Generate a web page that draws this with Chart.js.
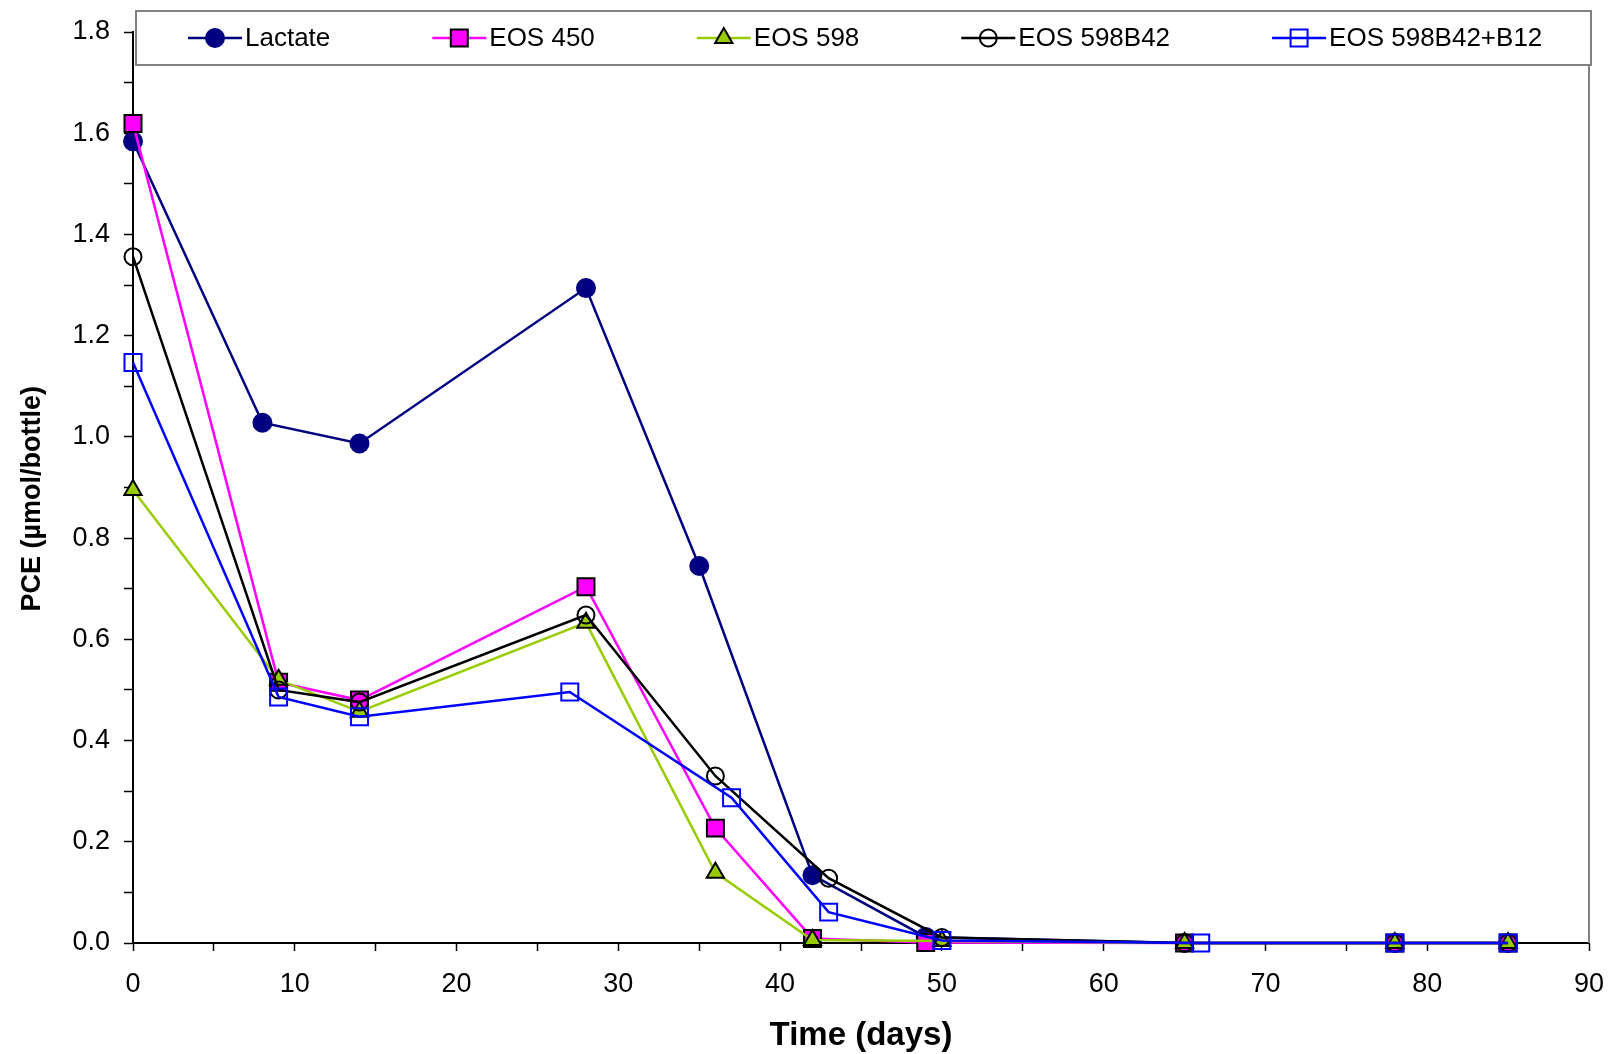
<!DOCTYPE html>
<html>
<head>
<meta charset="utf-8">
<script src="https://cdn.jsdelivr.net/npm/chart.js@4/dist/chart.umd.min.js"></script>
<style>
  body { margin: 0; background: #fff; }
  #wrap { width: 1612px; height: 1054px; position: relative; }
</style>
</head>
<body>
<div id="wrap"><canvas id="pce-chart"></canvas></div>
<script>
// days sampled for each treatment
let lactateDays = [0, 8, 14, 28, 35, 42, 49, 65, 78, 85];
let eos450Days = [0, 9, 14, 28, 36, 42, 49, 65, 78, 85];
let eos598Days = [0, 9, 14, 28, 36, 42, 50, 65, 78, 85];
let b42Days = [0, 9, 14, 28, 36, 43, 50, 65, 78, 85];
let b12Days = [0, 9, 14, 27, 37, 43, 50, 66, 78, 85];

// PCE (umol/bottle)
let lactatePce = [1.584, 1.028, 0.987, 1.294, 0.745, 0.134, 0.012, 0, 0, 0];
let eos450Pce = [1.619, 0.515, 0.48, 0.704, 0.227, 0.009, 0.001, 0, 0, 0];
let eos598Pce = [0.895, 0.52, 0.457, 0.633, 0.139, 0.006, 0.004, 0, 0, 0];
let b42Pce = [1.356, 0.5, 0.476, 0.648, 0.33, 0.128, 0.011, 0, 0, 0];
let b12Pce = [1.147, 0.486, 0.447, 0.496, 0.287, 0.061, 0.005, 0, 0, 0];

let seriesNames = ['Lactate', 'EOS 450', 'EOS 598', 'EOS 598B42', 'EOS 598B42+B12'];
let yTickLabels = ['0.0', '0.2', '0.4', '0.6', '0.8', '1.0', '1.2', '1.4', '1.6', '1.8'];
let xTickLabels = ['0', '10', '20', '30', '40', '50', '60', '70', '80', '90'];

let FONT = "'Liberation Sans', Arial, sans-serif";

let toPoints = function(days, vals) {
  return days.map(function(d, i) { return { x: d, y: vals[i] }; });
};

let mkSet = function(i, days, vals, line, style, radius, fill, edge) {
  return {
    label: seriesNames[i],
    data: toPoints(days, vals),
    borderColor: line,
    borderWidth: 2.5,
    tension: 0,
    clip: false,
    pointStyle: style,
    pointRadius: radius,
    pointHoverRadius: radius,
    pointBackgroundColor: fill,
    pointBorderColor: edge,
    pointBorderWidth: 2,
    order: 5 - i
  };
};

let datasets = [
  mkSet(0, lactateDays, lactatePce, '#000080', 'circle', 9, '#000080', '#000080'),
  mkSet(1, eos450Days, eos450Pce, '#FF00FF', 'rect', 12, '#FF00FF', '#000000'),
  mkSet(2, eos598Days, eos598Pce, '#99CC00', 'triangle', 10, '#99CC00', '#000000'),
  mkSet(3, b42Days, b42Pce, '#000000', 'circle', 8.5, 'rgba(0,0,0,0)', '#000000'),
  mkSet(4, b12Days, b12Pce, '#0000FF', 'rect', 12, 'rgba(0,0,0,0)', '#0000FF')
];

// marker drawn the same way chart.js draws its points
function drawMarker(ctx, style, r, x, y) {
  ctx.beginPath();
  if (style === 'circle') {
    ctx.arc(x, y, r, 0, Math.PI * 2);
  } else if (style === 'rect') {
    let s = r * Math.SQRT1_2;
    ctx.rect(x - s, y - s, 2 * s, 2 * s);
  } else if (style === 'triangle') {
    ctx.moveTo(x, y - r);
    ctx.lineTo(x + r * Math.sin(Math.PI / 3), y + r / 2);
    ctx.lineTo(x - r * Math.sin(Math.PI / 3), y + r / 2);
  }
  ctx.closePath();
  ctx.fill();
  ctx.stroke();
}

let frameAndLegend = {
  id: 'frameAndLegend',
  beforeDatasetsDraw: function(chart) {
    let ctx = chart.ctx, a = chart.chartArea;
    ctx.save();
    ctx.strokeStyle = '#808080';
    ctx.lineWidth = 2;
    ctx.beginPath();
    ctx.moveTo(a.right, a.top);
    ctx.lineTo(a.right, a.bottom);
    ctx.stroke();
    ctx.restore();
  },
  afterDraw: function(chart) {
    let ctx = chart.ctx;
    ctx.save();
    // box
    ctx.fillStyle = '#fff';
    ctx.fillRect(136, 11, 1455, 54);
    ctx.strokeStyle = '#808080';
    ctx.lineWidth = 2;
    ctx.strokeRect(136, 11, 1455, 54);
    ctx.font = '26px ' + FONT;
    ctx.textBaseline = 'middle';
    let x = 188, cy = 38;
    chart.data.datasets.forEach(function(ds) {
      ctx.strokeStyle = ds.borderColor;
      ctx.lineWidth = 2.5;
      ctx.beginPath();
      ctx.moveTo(x, cy);
      ctx.lineTo(x + 54, cy);
      ctx.stroke();
      ctx.lineWidth = 2;
      ctx.fillStyle = ds.pointBackgroundColor;
      ctx.strokeStyle = ds.pointBorderColor;
      drawMarker(ctx, ds.pointStyle, ds.pointRadius, x + 27, cy);
      ctx.fillStyle = '#000';
      ctx.fillText(ds.label, x + 57, cy + 1);
      x += 57 + ctx.measureText(ds.label).width + 102;
    });
    ctx.restore();
  }
};

new Chart(document.getElementById('pce-chart'), {
  type: 'line',
  data: { datasets: datasets },
  plugins: [frameAndLegend],
  options: {
    responsive: true,
    maintainAspectRatio: false,
    devicePixelRatio: 1,
    animation: false,
    layout: { padding: { top: 32, right: 23, left: 0, bottom: 0 } },
    plugins: { legend: { display: false }, tooltip: { enabled: false } },
    scales: {
      x: {
        type: 'linear',
        min: 0,
        max: 90,
        afterFit: function(s) { s.height = 111; s.paddingLeft = 0; s.paddingRight = 0; },
        border: { color: '#000', width: 2 },
        grid: { drawOnChartArea: false, drawTicks: true, tickLength: 8, color: '#000', tickWidth: 1.5 },
        ticks: {
          stepSize: 5,
          autoSkip: false,
          maxRotation: 0,
          padding: 17,
          color: '#000',
          font: { family: FONT, size: 27 },
          callback: function(v) { return v % 10 === 0 ? xTickLabels[v / 10] : ''; }
        },
        title: {
          display: true,
          text: 'Time (days)',
          color: '#000',
          font: { family: FONT, size: 33, weight: 'bold' },
          padding: { top: 0, bottom: -2 }
        }
      },
      y: {
        min: 0,
        max: 1.8,
        afterFit: function(s) { s.width = 133; s.paddingTop = 0; s.paddingBottom = 0; },
        border: { color: '#000', width: 2 },
        grid: { drawOnChartArea: false, drawTicks: true, tickLength: 9, color: '#000', tickWidth: 1.5 },
        ticks: {
          stepSize: 0.1,
          autoSkip: false,
          padding: 14,
          color: '#000',
          font: { family: FONT, size: 27 },
          callback: function(v) {
            let k = Math.round(v * 10);
            return k % 2 === 0 ? yTickLabels[k / 2] : '';
          }
        },
        title: {
          display: true,
          text: 'PCE (µmol/bottle)   ',
          color: '#000',
          font: { family: FONT, size: 27, weight: 'bold' },
          padding: { top: 16, bottom: 0 }
        }
      }
    }
  }
});
</script>
</body>
</html>
